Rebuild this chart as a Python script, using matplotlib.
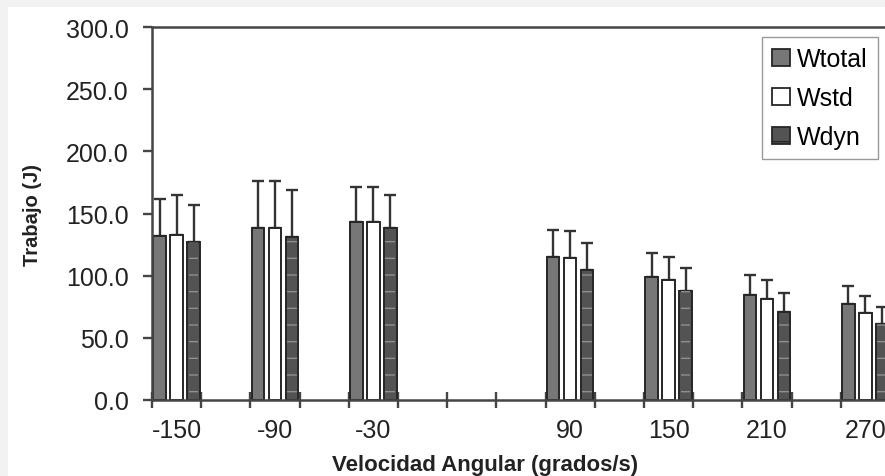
import numpy as np
import matplotlib
matplotlib.use("Agg")
import matplotlib.pyplot as plt
from matplotlib.patches import Rectangle, Patch

plt.rcParams["font.family"] = ["Liberation Sans", "DejaVu Sans"]

# velocidades con datos (grados/s), eje de categorias cada 30 grados
velocidades = [-150, -90, -30, 90, 150, 210, 270]
wtotal = [132, 138, 143, 115, 99, 84.5, 77]
wstd = [133, 138, 143, 114, 96.5, 81, 70]
wdyn = [127, 131, 138, 104.5, 88, 71, 61]
err_total = [30, 38, 28, 22, 19.6, 16.3, 14.4]
err_std = [32, 38, 28, 21.7, 18.8, 15.6, 13.7]
err_dyn = [30, 37.5, 27, 22, 18, 14.8, 14]

paso = 30
inicio = -150
n_cat = 15
pos = (np.array(velocidades) - inicio) / paso

W, H = 885, 477
fig = plt.figure(figsize=(W / 100, H / 100), dpi=100, facecolor="#f2f2f2")
fondo = Rectangle((8 / W, 0), 1, 1 - 8 / H, transform=fig.transFigure,
                  facecolor="white", edgecolor="none", zorder=-10)
fig.patches.append(fondo)

ax = fig.add_axes([152 / W, 76 / H, 738 / W, 373 / H])
ax.set_zorder(1)
ax.set_facecolor("white")

ancho = 0.25
desp = 0.345
borde = "#262626"
ekw = dict(ecolor="#333333", elinewidth=1.7, capsize=4.5, capthick=1.7)


def barras(x, vals, errs, color, hatch=None):
    ax.bar(x, vals, ancho, color=color, edgecolor=borde, linewidth=1.4, zorder=2)
    if hatch:
        ax.bar(x, vals, ancho * 0.8, color="none", edgecolor="#8f8f8f", hatch=hatch,
               linewidth=0, zorder=3)
    ax.errorbar(x, vals, yerr=[np.zeros(len(vals)), errs], fmt="none", zorder=1, **ekw)


barras(pos - desp, wtotal, err_total, "#777777")
barras(pos, wstd, err_std, "white")
barras(pos + desp, wdyn, err_dyn, "#535353", hatch="-")

ax.set_xlim(-0.5, n_cat - 0.5)
ax.set_ylim(0, 300)
ax.set_yticks(np.arange(0, 301, 50))
ax.set_yticklabels([f"{v:.1f}" for v in np.arange(0, 301, 50)])

ax.set_xticks(np.arange(n_cat + 1) - 0.5)
ax.set_xticklabels([])
ax.set_xticks(pos, minor=True)
ax.set_xticklabels([str(v) for v in velocidades], minor=True)

col_eje = "#454545"
for lado in ["left", "bottom", "top"]:
    ax.spines[lado].set_color(col_eje)
    ax.spines[lado].set_linewidth(1.8)
ax.spines["right"].set_visible(False)

ax.tick_params(axis="y", direction="out", length=6.5, width=1.7, color=col_eje,
               labelsize=18, pad=10.5, labelcolor="#222222")
ax.tick_params(axis="x", which="major", direction="inout", length=11, width=1.7,
               color=col_eje)
ax.tick_params(axis="x", which="minor", length=0, labelsize=18, pad=13,
               labelcolor="#222222")

fig.text(33 / W, 1 - 215 / H, "Trabajo (J)", rotation=90, fontsize=14.5,
         fontweight="bold", ha="center", va="center", color="#222222")
fig.text(485 / W, 1 - 466 / H, "Velocidad Angular (grados/s)", fontsize=16,
         fontweight="bold", ha="center", va="center", color="#222222")

handles = [Patch(facecolor="#777777", edgecolor=borde, linewidth=1.3),
           Patch(facecolor="white", edgecolor=borde, linewidth=1.3),
           Patch(facecolor="#535353", edgecolor=borde, linewidth=1.3, hatch="-")]
leg = ax.legend(handles, ["Wtotal", "Wstd", "Wdyn"], loc="upper left",
                bbox_to_anchor=(762 / W, 1 - 38 / H), bbox_transform=fig.transFigure,
                fontsize=18, frameon=True, fancybox=False, edgecolor="#999999",
                handlelength=0.7, handleheight=0.7, handletextpad=0.3,
                labelspacing=0.6, borderpad=0.4, borderaxespad=0, framealpha=1)
leg.get_frame().set_linewidth(1.0)

fig.savefig("out.png", dpi=100, facecolor=fig.get_facecolor())
